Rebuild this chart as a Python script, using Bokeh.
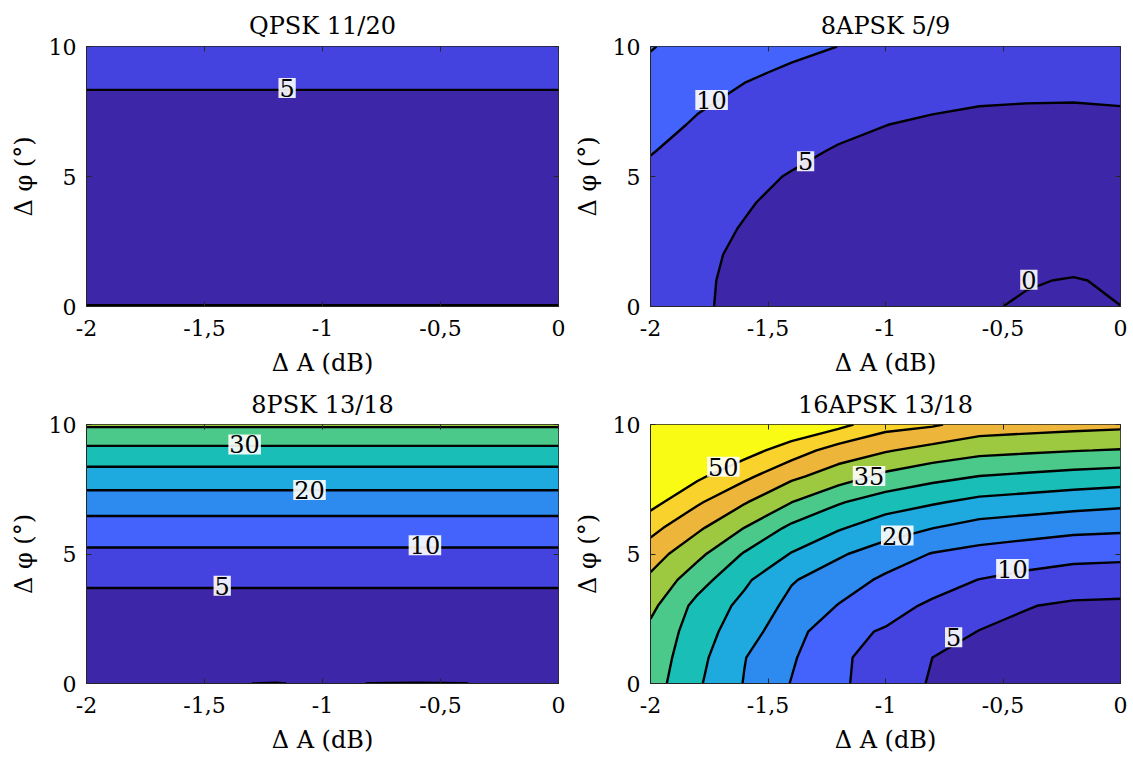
import numpy as np
from bokeh.plotting import figure
from bokeh.layouts import column, row
from bokeh.models import LinearAxis, FixedTicker, Range1d, CustomJSTickFormatter
from bokeh.core.properties import value
from bokeh.embed import file_html
from bokeh.resources import INLINE

# ---------------- data ----------------
x_grid = [-2.0, -1.8, -1.6, -1.4, -1.2, -1.0, -0.8, -0.6, -0.4, -0.2, 0.0]   # ΔA (dB)
y_grid = [0, 1, 2, 3, 4, 5, 6, 7, 8, 9, 10]                                  # Δφ (deg)

levels = [-10, 0, 5, 10, 15, 20, 25, 30, 35, 40, 45, 50, 100]
band_colors = ["#3E26A8", "#3E26A8", "#4543E0", "#4363FC", "#2D8BF0", "#1EAADF",
               "#19BEB7", "#4BC98A", "#9CC93F", "#EDB53A", "#F9D22C", "#F9FB15"]

x_ticks = [-2, -1.5, -1, -0.5, 0]
y_ticks = [0, 5, 10]

# QPSK 11/20 : value versus Δφ (same for every ΔA)
qpsk_profile = [-0.02, 0.4, 0.9, 1.4, 2.0, 2.6, 3.2, 3.8, 4.5, 6.0, 7.5]

# 8PSK 13/18 : bottom row (Δφ=0) across ΔA, then values versus Δφ = 1..10
psk8_bottom = [0.1, 0.1, 0.1, 0.03, -0.03, 0.1, -0.01, -0.03, -0.01, 0.1, 0.1]
psk8_profile = [1.0, 1.9, 2.8, 6.0, 9.1, 12.7, 17.6, 22.8, 28.8, 35.7]

# 8APSK 5/9 : one list per ΔA column, values for Δφ = 0..10
apsk8_cols = [
    [7.5, 7.6, 7.8, 8.1, 8.6, 9.2, 10.2, 11.3, 12.5, 13.8, 15.3],
    [6.2, 6.3, 6.5, 6.8, 7.3, 7.9, 8.7, 9.6, 10.6, 11.7, 12.9],
    [2.8, 3.05, 3.75, 4.68, 5.52, 6.3, 7.2, 8.2, 9.4, 10.4, 11.5],
    [2.2, 2.4, 2.75, 3.1, 3.44, 4.68, 6.13, 7.2, 8.4, 9.6, 10.65],
    [1.7, 1.9, 2.2, 2.5, 2.9, 3.6, 4.62, 6.2, 7.4, 8.7, 9.98],
    [1.3, 1.5, 1.8, 2.1, 2.5, 3.0, 3.9, 5.06, 6.3, 7.6, 8.9],
    [0.9, 1.1, 1.6, 2.0, 2.5, 3.0, 3.6, 4.3, 6.09, 7.3, 8.5],
    [0.4, 0.7, 1.5, 2.1, 2.6, 3.1, 3.7, 4.3, 5.3, 6.4, 7.5],
    [-0.4, 0.245, 1.6, 2.3, 2.8, 3.3, 3.85, 4.35, 5.15, 6.1, 7.1],
    [-0.7, -0.206, 1.38, 2.3, 2.9, 3.4, 3.9, 4.4, 5.11, 6.0, 6.9],
    [-0.02, 0.48, 1.6, 2.4, 3.0, 3.5, 4.0, 4.4, 5.25, 6.0, 6.8],
]

# 16APSK 13/18 : one list per ΔA column, values for Δφ = 0..10
apsk16_cols = [
    [32.3, 33.0, 33.8, 36.22, 39.0, 42.37, 46.51, 51.7, 56.9, 62.0, 67.0],
    [25.67, 26.5, 27.5, 28.5, 32.03, 36.24, 40.85, 45.64, 50.96, 56.3, 61.6],
    [19.75, 20.17, 21.92, 23.66, 25.85, 29.56, 34.89, 40.4, 46.13, 52.08, 58.0],
    [14.8, 15.6, 17.12, 18.63, 20.39, 24.74, 28.85, 35.06, 41.08, 47.46, 54.5],
    [10.8, 10.6, 11.14, 14.8, 17.46, 20.59, 25.48, 30.45, 37.44, 42.84, 51.47],
    [7.58, 8.6, 9.62, 11.58, 14.1, 17.69, 22.25, 27.45, 33.84, 40.45, 46.86],
    [4.55, 4.99, 7.11, 9.28, 11.9, 14.74, 20.05, 25.54, 31.56, 38.21, 45.6],
    [3.5, 4.18, 4.85, 7.14, 9.89, 13.4, 18.06, 23.65, 29.94, 36.43, 42.92],
    [2.8, 3.4, 4.0, 5.2, 8.61, 12.42, 17.17, 22.85, 29.09, 35.81, 42.27],
    [2.3, 2.9, 3.5, 4.3, 7.66, 11.47, 16.28, 21.99, 28.25, 35.19, 41.69],
    [2.0, 2.6, 3.3, 4.1, 7.41, 11.19, 15.89, 21.25, 27.64, 34.72, 41.23],
]

titles = ["QPSK 11/20", "8APSK 5/9", "8PSK 13/18", "16APSK 13/18"]

# contour labels: text and where they sit
qpsk_lbl = dict(x=[-1.15], y=[8.4], text=["5"])
apsk8_lbl = dict(x=[-1.74, -1.34, -0.39], y=[7.94, 5.59, 1.03], text=["10", "5", "0"])
psk8_lbl = dict(x=[-1.33, -1.055, -0.566, -1.425], y=[9.23, 7.47, 5.34, 3.77],
                text=["30", "20", "10", "5"])
apsk16_lbl = dict(x=[-1.69, -1.07, -0.95, -0.46, -0.71], y=[8.37, 8.01, 5.71, 4.42, 1.79],
                  text=["50", "35", "20", "10", "5"])

x_label = "Δ A (dB)"
y_label = "Δ φ (°)"

# ---------------- grids ----------------
n = len(x_grid)
qpsk_z = np.tile(np.array(qpsk_profile)[:, None], (1, n))
psk8_z = np.vstack([np.array(psk8_bottom)[None, :],
                    np.tile(np.array(psk8_profile)[:, None], (1, n))])
apsk8_z = np.array(apsk8_cols).T
apsk16_z = np.array(apsk16_cols).T

FONT = "DejaVu Serif"
AX = "#262626"

fmt = CustomJSTickFormatter(code="return tick.toString().replace('.', ',');")


def make(title, z, lbl, width, height, bl, br, bt, bb, title_standoff):
    p = figure(width=width, height=height, x_range=Range1d(-2, 0), y_range=Range1d(0, 10),
               min_border_left=bl, min_border_right=br, min_border_top=bt, min_border_bottom=bb,
               output_backend="svg", toolbar_location=None, title=title)
    p.grid.visible = False
    p.background_fill_color = "white"
    p.outline_line_color = AX
    p.outline_line_width = 1
    p.outline_line_alpha = 1

    p.contour(x_grid, y_grid, z, levels, fill_color=band_colors,
              line_color="black", line_width=2.4)

    p.text(x=lbl["x"], y=lbl["y"], text=lbl["text"], text_align="center",
           text_baseline="middle", text_font=value(FONT), text_font_size="24px",
           text_color="black", background_fill_color="white", background_fill_alpha=0.9,
           padding=1)

    p.title.text_font = FONT
    p.title.text_font_size = "24px"
    p.title.text_font_style = "normal"
    p.title.align = "center"
    p.title.text_color = "black"
    p.title.standoff = title_standoff

    for ax in (p.xaxis[0], p.yaxis[0]):
        ax.major_tick_in = 5
        ax.major_tick_out = 0
        ax.minor_tick_line_color = None
        ax.major_tick_line_color = AX
        ax.axis_line_color = AX
        ax.major_label_text_font = FONT
        ax.major_label_text_font_size = "22px"
        ax.major_label_text_color = "black"
        ax.axis_label_text_font = FONT
        ax.axis_label_text_font_size = "24px"
        ax.axis_label_text_font_style = "normal"
        ax.axis_label_text_color = "black"
    p.xaxis[0].major_label_standoff = 13
    p.xaxis[0].axis_label_standoff = 10
    p.yaxis[0].major_label_standoff = 10
    p.yaxis[0].axis_label_standoff = 8
    p.xaxis[0].ticker = FixedTicker(ticks=x_ticks)
    p.xaxis[0].formatter = fmt
    p.yaxis[0].ticker = FixedTicker(ticks=y_ticks)
    p.xaxis[0].axis_label = x_label
    p.yaxis[0].axis_label = y_label

    # inward tick marks on the top and right edges (box on), without labels
    for side, ticks in (("above", x_ticks), ("right", y_ticks)):
        ax = LinearAxis(ticker=FixedTicker(ticks=ticks), major_label_text_font_size="0px",
                        major_label_text_color=None, major_label_standoff=0,
                        major_tick_in=5, major_tick_out=0,
                        minor_tick_line_color=None, major_tick_line_color=AX,
                        axis_line_color=None)
        p.add_layout(ax, side)
    return p


p1 = make(titles[0], qpsk_z, qpsk_lbl, 570, 383, 86, 12, 46, 77, 13)
p2 = make(titles[1], apsk8_z, apsk8_lbl, 563, 383, 78, 13, 46, 77, 13)
p3 = make(titles[2], psk8_z, psk8_lbl, 570, 377, 86, 12, 40, 77, 11)
p4 = make(titles[3], apsk16_z, apsk16_lbl, 563, 377, 78, 13, 40, 77, 11)

layout = column(row(p1, p2), row(p3, p4))
open("out.html", "w").write(file_html(layout, INLINE))
